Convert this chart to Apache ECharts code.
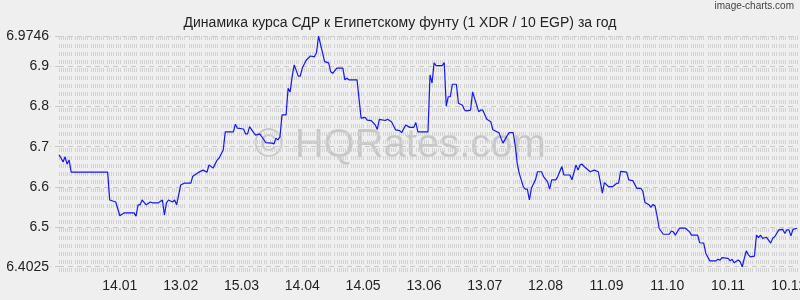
<!DOCTYPE html>
<html>
<head>
<meta charset="utf-8">
<script src="https://cdn.jsdelivr.net/npm/echarts@6/dist/echarts.min.js"></script>
<style>
html,body{margin:0;padding:0;background:#efefef;}
#chart{width:800px;height:300px;}
</style>
</head>
<body>
<div id="chart"></div>
<script>
// Day offset from start of period (15.12) and XDR/EGP rate (1 XDR / 10 EGP)
const days = [0,1,2,3,4,5,6,24,25,28,30,32,37,38,39,40,41,43,45,46,49,51,52,53,54,56,57,58,59,60,62,65,66,69,71,73,74,76,78,79,81,82,86,87,88,91,92,93,94,96,97,99,101,102,105,106,107,108,109,110,112,113,114,115,116,118,119,120,122,124,126,127,128,130,131,133,134,135,137,140,141,142,143,147,149,151,152,154,156,157,158,161,162,164,166,168,169,171,173,175,176,177,182,183,184,185,186,189,190,191,192,193,194,196,197,199,200,201,203,204,205,207,208,209,211,213,214,216,217,218,219,221,222,224,225,226,227,229,230,231,232,233,235,236,238,239,241,242,243,245,246,248,249,252,253,255,256,257,258,259,262,264,266,267,268,269,271,273,275,276,277,280,281,283,285,287,288,289,291,292,293,294,295,296,298,301,302,303,304,306,309,311,312,315,316,318,319,321,324,325,326,327,330,331,332,333,335,336,337,338,339,340,341,343,344,345,346,347,349,351,352,353,355,357,358,359,360,361,362,364];
const rates = [6.680,6.672,6.662,6.675,6.657,6.667,6.637,6.637,6.568,6.563,6.529,6.536,6.536,6.528,6.556,6.556,6.568,6.556,6.563,6.561,6.561,6.568,6.531,6.561,6.568,6.563,6.568,6.556,6.580,6.605,6.610,6.610,6.627,6.637,6.642,6.637,6.655,6.647,6.667,6.672,6.692,6.737,6.737,6.756,6.746,6.744,6.732,6.732,6.750,6.735,6.729,6.732,6.718,6.710,6.709,6.707,6.721,6.717,6.725,6.779,6.779,6.845,6.836,6.874,6.903,6.875,6.875,6.895,6.915,6.925,6.923,6.933,6.9746,6.933,6.911,6.908,6.886,6.882,6.895,6.895,6.866,6.870,6.866,6.866,6.771,6.773,6.766,6.765,6.754,6.743,6.768,6.765,6.768,6.762,6.742,6.740,6.735,6.754,6.748,6.748,6.760,6.737,6.737,6.878,6.858,6.908,6.901,6.901,6.909,6.801,6.824,6.824,6.855,6.855,6.808,6.803,6.791,6.789,6.791,6.836,6.820,6.787,6.791,6.791,6.768,6.762,6.742,6.737,6.735,6.721,6.709,6.727,6.735,6.735,6.704,6.659,6.634,6.601,6.595,6.595,6.568,6.597,6.618,6.638,6.638,6.626,6.613,6.595,6.618,6.618,6.626,6.651,6.630,6.630,6.618,6.655,6.642,6.655,6.657,6.651,6.638,6.642,6.638,6.613,6.585,6.611,6.601,6.601,6.609,6.610,6.639,6.637,6.618,6.616,6.597,6.597,6.589,6.562,6.556,6.550,6.557,6.553,6.528,6.498,6.483,6.483,6.491,6.489,6.481,6.498,6.498,6.489,6.481,6.481,6.462,6.461,6.436,6.417,6.417,6.421,6.419,6.425,6.423,6.417,6.421,6.4125,6.419,6.415,6.4025,6.423,6.442,6.432,6.427,6.429,6.481,6.475,6.481,6.473,6.4755,6.461,6.473,6.477,6.494,6.495,6.485,6.494,6.494,6.479,6.495,6.498];
const tickDays = [30,60,90,120,150,180,210,240,270,300,330,360];
const tickLabels = ['14.01','13.02','15.03','14.04','14.05','13.06','13.07','12.08','11.09','11.10','10.11','10.12'];
const yTicks = [6.4025,6.5,6.6,6.7,6.8,6.9,6.9746];
const yMin = 6.382, yMax = 6.9746;
const titleText = 'Динамика курса СДР к Египетскому фунту (1 XDR / 10 EGP) за год';

// background texture grid columns (style only)
const gridDays = [];
for (let d = 0; d <= 364; d++) { if (d % 8 !== 7) gridDays.push(d); }

const chart = echarts.init(document.getElementById('chart'), null, {renderer:'canvas'});
const font = '"Liberation Sans", Arial, sans-serif';
chart.setOption({
  backgroundColor: '#efefef',
  animation: false,
  title: {
    text: titleText, left: 'center', top: 11,
    textStyle: {fontFamily: font, fontSize: 14, fontWeight: 'normal', color: '#222'}
  },
  graphic: [
    {type:'text', right: 6, top: 1, z: 10,
     style:{text:'image-charts.com', fontFamily: font, fontSize: 10, fill:'#444'}},
    {type:'text', left: 'center', top: 126, z: 0, silent: true,
     style:{text:'© HQRates.com', fontFamily: font, fontSize: 40, fill:'rgba(0,0,0,0.16)'}}
  ],
  grid: {left: 59, top: 36, width: 738, height: 239, containLabel: false, outerBoundsMode: 'none'},
  xAxis: {
    type: 'value', min: 0, max: 364,
    axisLine: {show: false},
    axisTick: {show: false, customValues: gridDays},
    splitLine: {show: true, lineStyle: {color: '#d2d2d2', width: 1, type: [4,4]}},
    axisLabel: {
      customValues: tickDays, margin: 4,
      fontFamily: font, fontSize: 14, color: '#222',
      formatter: v => tickLabels[Math.round(v / 30) - 1]
    }
  },
  yAxis: {
    type: 'value', min: yMin, max: yMax,
    axisLine: {show: false},
    axisTick: {show: true, length: 9, customValues: yTicks, lineStyle: {color: '#c8c8c8', type: [4,4]}},
    splitLine: {show: true, lineStyle: {color: '#c8c8c8', width: 1, type: [5,4]}},
    axisLabel: {
      customValues: yTicks, margin: 10,
      fontFamily: font, fontSize: 14, color: '#222',
      formatter: v => String(v)
    }
  },
  series: [{
    type: 'line', z: 5,
    data: days.map((d, i) => [d, rates[i]]),
    showSymbol: false, symbol: 'none',
    lineStyle: {color: '#1515ff', width: 1.2}
  }]
});
</script>
</body>
</html>
